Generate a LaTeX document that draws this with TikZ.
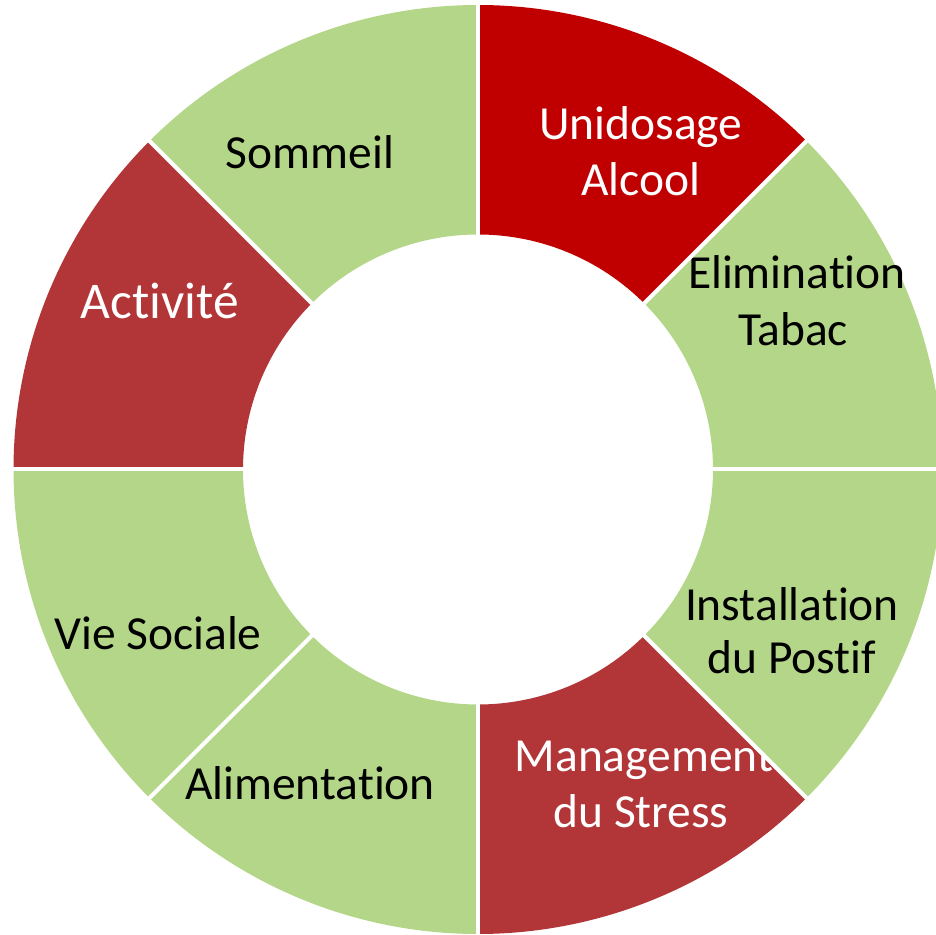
\documentclass[tikz,border=0pt]{standalone}
\usepackage{fontspec}
\setmainfont{Carlito}[Ligatures={NoCommon,NoContextual}]
\usetikzlibrary{calc}
\definecolor{segGreen}{RGB}{180,214,136}
\definecolor{segDark}{RGB}{192,0,0}
\definecolor{segRed}{RGB}{178,53,56}
\newcommand{\donutSector}[3]{%
  \fill[#3] ($(c)+(#1:464.5)$) arc[start angle=#1,end angle=#2,radius=464.5]
    -- ($(c)+(#2:235)$) arc[start angle=#2,end angle=#1,radius=235] -- cycle;}
\begin{document}
\begin{tikzpicture}[x=1pt,y=1pt,
  lbl/.style={anchor=base,inner sep=0pt,font=\fontsize{47.5}{56}\selectfont},
  onGreen/.style={lbl,text=black},
  onRed/.style={lbl,text=white},
  gap/.style={draw=white,line width=4pt}]
\useasboundingbox (0,0) rectangle (936,934);
\coordinate (c) at (478,464.5);
% Unidosage Alcool
\donutSector{45}{90}{segDark}
\node[onRed] (u1) at (641,794) {Unidosage};
\node[onRed] (u2) at (641,738) {Alcool};
% Elimination Tabac
\donutSector{0}{45}{segGreen}
\node[onGreen] (e1) at (797,645) {Elimination};
\node[onGreen] (e2) at (793,588) {Tabac};
% Management du Stress
\donutSector{270}{315}{segRed}
\node[onRed] (m1) at (644,163) {Management};
\node[onRed] (m2) at (641,107) {du Stress};
% Installation du Postif
\donutSector{315}{360}{segGreen}
\node[onGreen] (i1) at (792,313) {Installation};
\node[onGreen] (i2) at (792,260) {du Postif};
% Alimentation
\donutSector{225}{270}{segGreen}
\node[onGreen] (al) at (310,135) {Alimentation};
% Vie Sociale
\donutSector{180}{225}{segGreen}
\node[onGreen] (vs) at (158,284) {Vie Sociale};
% Activite
\donutSector{135}{180}{segRed}
\node[onRed,font=\fontsize{51.5}{60}\selectfont] (ac) at (160,615) {Activité};
% Sommeil
\donutSector{90}{135}{segGreen}
\node[onGreen] (so) at (310,765) {Sommeil};
% white gaps between sectors
\foreach \a in {0,45,...,315}{
  \draw[gap] ($(c)+(\a:230)$) -- ($(c)+(\a:470)$);
}
\end{tikzpicture}
\end{document}
